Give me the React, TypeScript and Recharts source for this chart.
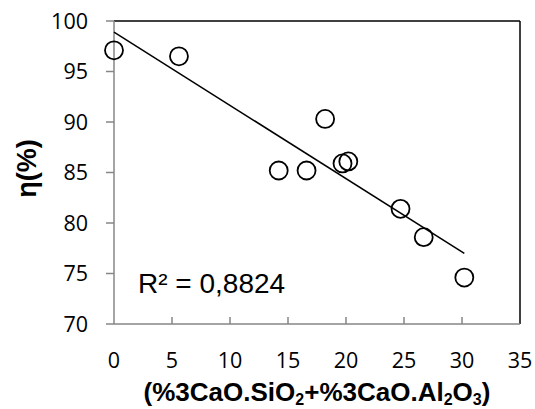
import React from 'react';
import { ScatterChart, Scatter, XAxis, YAxis, ReferenceLine, ReferenceDot } from 'recharts';

const xValues = [0, 5.6, 14.2, 16.6, 18.2, 19.7, 20.2, 24.7, 26.7, 30.2];
const yValues = [97.1, 96.5, 85.2, 85.2, 90.3, 85.9, 86.1, 81.4, 78.6, 74.6];
const trendX = [0, 30.2];
const trendY = [98.9, 77.0];
const xTicks = [0, 5, 10, 15, 20, 25, 30, 35];
const yTicks = [70, 75, 80, 85, 90, 95, 100];
const r2Text = 'R² = 0,8824';

const points = xValues.map((x, i) => ({ x, y: yValues[i] }));
const trend = trendX.map((x, i) => ({ x, y: trendY[i] }));

const AXIS_GRAY = '#868686';
const TICK_FONT = '"Open Sans", sans-serif';
const BOLD_FONT = '"Liberation Sans", Arial, sans-serif';

const XTick = (props: any) => {
  const { x, y, payload } = props;
  return (
    <g>
      {payload.value > 0 && payload.value < 35 ? (
        <line x1={x} y1={y} x2={x} y2={y - 7} stroke={AXIS_GRAY} strokeWidth={1.5} />
      ) : null}
      <text x={x} y={y + 44} textAnchor="middle" fontFamily={TICK_FONT} fontSize={21.5} fill="#000">
        {payload.value}
      </text>
    </g>
  );
};

const Circle = (props: any) => {
  const { cx, cy } = props;
  return <circle cx={cx} cy={cy} r={9} fill="none" stroke="#000" strokeWidth={1.8} />;
};

const NoShape = () => <g />;

const XTitle = (props: any) => {
  const { viewBox } = props;
  const cx = viewBox.x + viewBox.width / 2;
  const by = viewBox.y + 77;
  return (
    <text x={cx} y={by} textAnchor="middle" fontFamily={BOLD_FONT} fontWeight="bold" fontSize={26} fill="#000">
      <tspan>(%3CaO.SiO</tspan>
      <tspan fontSize={16} dy={4}>2</tspan>
      <tspan dy={-4}>+%3CaO.Al</tspan>
      <tspan fontSize={16} dy={4}>2</tspan>
      <tspan dy={-4}>O</tspan>
      <tspan fontSize={16} dy={4}>3</tspan>
      <tspan dy={-4}>)</tspan>
    </text>
  );
};

const YTitle = (props: any) => {
  const { viewBox } = props;
  const cx = viewBox.x + 27;
  const cy = viewBox.y + viewBox.height / 2 - 4;
  return (
    <text
      x={cx}
      y={cy}
      textAnchor="middle"
      dominantBaseline="central"
      transform={`rotate(-90, ${cx}, ${cy})`}
      fontFamily={BOLD_FONT}
      fontWeight="bold"
      fontSize={27}
      fill="#000"
    >
      η(%)
    </text>
  );
};

const R2Label = (props: any) => {
  const { viewBox } = props;
  return (
    <text x={viewBox.x} y={viewBox.y} fontFamily={BOLD_FONT} fontSize={28} fill="#000">
      {r2Text}
    </text>
  );
};

export default function App() {
  return (
    <div style={{ position: 'absolute', left: 0, top: 0, width: 535, height: 409, background: '#fff' }}>
      <ScatterChart width={535} height={409} margin={{ top: 21, right: 15, bottom: 0, left: 0 }}>
        <XAxis
          type="number"
          dataKey="x"
          domain={[0, 35]}
          ticks={xTicks}
          interval={0}
          height={85}
          axisLine={{ stroke: AXIS_GRAY, strokeWidth: 1.5 }}
          tickLine={false}
          tickSize={0}
          tickMargin={0}
          tick={<XTick />}
          label={<XTitle />}
        />
        <YAxis
          type="number"
          dataKey="y"
          domain={[70, 100]}
          ticks={yTicks}
          interval={0}
          width={114}
          axisLine={{ stroke: AXIS_GRAY, strokeWidth: 1.5 }}
          tickLine={{ stroke: AXIS_GRAY, strokeWidth: 1.5 }}
          tickSize={8}
          tickMargin={18}
          tick={{ fontFamily: TICK_FONT, fontSize: 21.5, fill: '#000' }}
          label={<YTitle />}
        />
        <ReferenceLine y={100} stroke="#000" strokeWidth={1.5} />
        <ReferenceLine x={35} stroke="#000" strokeWidth={1.5} />
        <ReferenceDot x={2.07} y={73.1} r={0} fill="none" stroke="none" label={<R2Label />} />
        <Scatter data={points} shape={<Circle />} isAnimationActive={false} />
        <Scatter
          data={trend}
          shape={<NoShape />}
          line={{ stroke: '#000', strokeWidth: 1.5 }}
          isAnimationActive={false}
        />
      </ScatterChart>
    </div>
  );
}
